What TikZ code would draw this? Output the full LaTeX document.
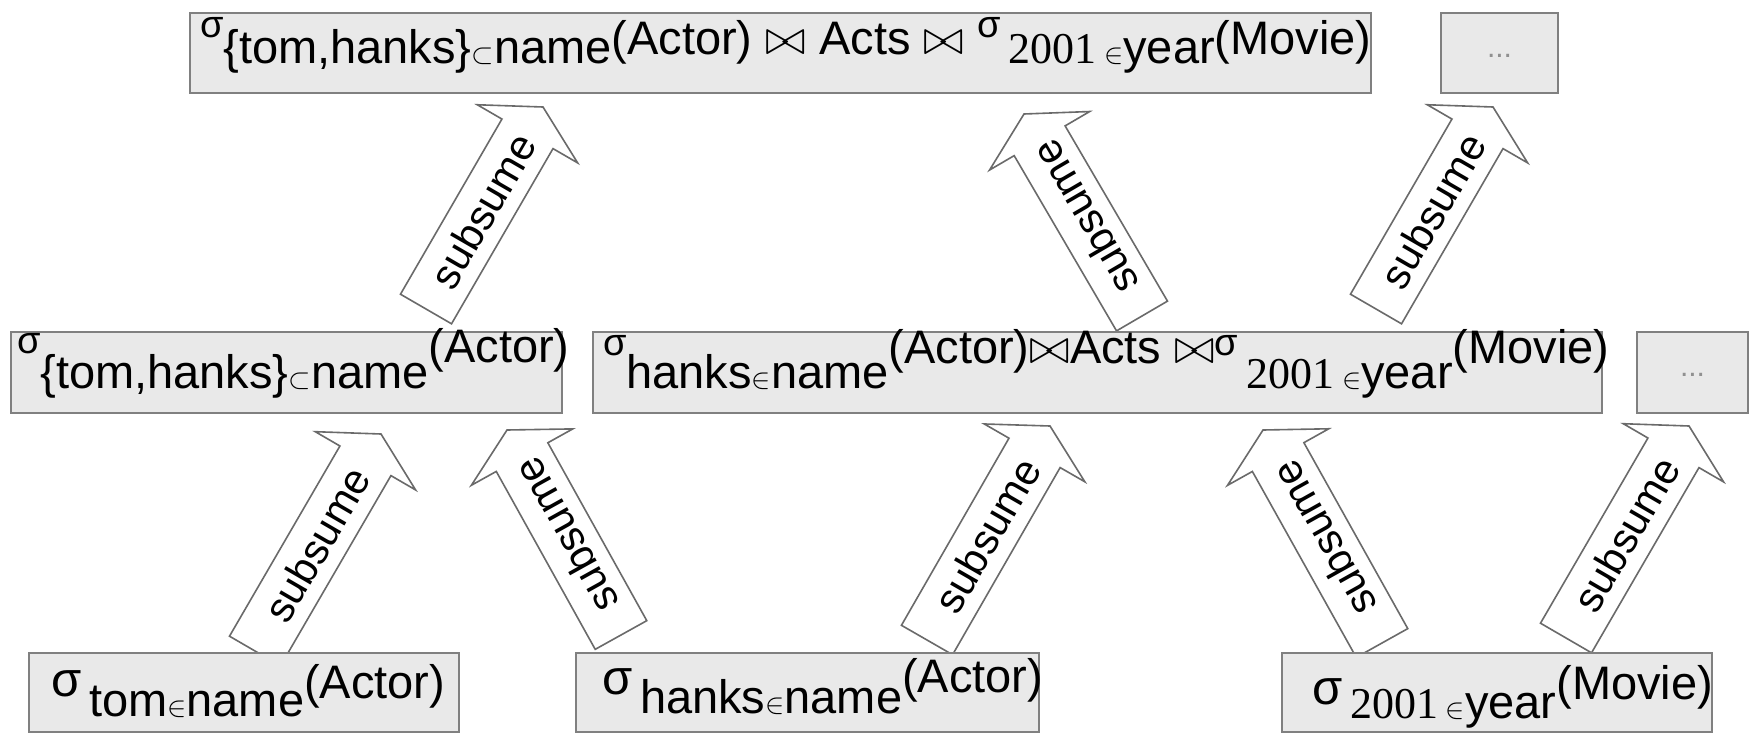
\documentclass[tikz,border=0pt]{standalone}
\usepackage{fontspec}
\setmainfont{Liberation Sans}
\newfontfamily\serifnum{Liberation Serif}
\usetikzlibrary{calc}
\pgfdeclarelayer{background}
\pgfsetlayers{background,main}
\definecolor{boxfill}{HTML}{E9E9E9}
\definecolor{boxline}{HTML}{808080}
\definecolor{arrline}{HTML}{6A6A6A}
\definecolor{dotcol}{HTML}{909090}
% text helpers
\newcommand\rb[2]{\raisebox{#1}{#2}}
\newcommand\sgm[1]{\raisebox{#1}{\fontsize{19}{19}\selectfont σ}}
\newcommand\Sgm[1]{\raisebox{#1}{\fontsize{24.5}{24.5}\selectfont σ}}
\newcommand\el{{\fontsize{14}{14}\selectfont$\in$}}
\newcommand\sbs{{\fontsize{15}{15}\selectfont$\subset$}}
\newcommand\bwt{{$\bowtie$}}
\newcommand\yr{{\serifnum\fontsize{22}{22}\selectfont 2001}}
\newcommand\bt[2]{\smash{\makebox[#1][l]{#2}}}
% block arrow between two named coordinates (tail, tip)
\newcommand\subsume[2]{%
  \coordinate (hb) at ($(#2)!15.5pt!(#1)$);
  \draw[arrowshape] ($(#1)!14.75pt!90:(#2)$) -- ($(hb)!14.75pt!-90:(#1)$)
    -- ($(hb)!29pt!-90:(#1)$) -- (#2) -- ($(hb)!29pt!90:(#1)$)
    -- ($(hb)!14.75pt!90:(#1)$) -- ($(#1)!14.75pt!-90:(#2)$) -- cycle;
  \path (#1) -- (hb) node[pos=0.56, sloped, allow upside down, arrtext] {subsume};
}
\begin{document}
\begin{tikzpicture}[x=0.5pt,y=-0.5pt,
  box/.style={draw=boxline, fill=boxfill, line width=1.4pt, inner sep=0pt,
              font=\fontsize{23.5}{23.5}\selectfont},
  dotbox/.style={draw=boxline, fill=boxfill, line width=1.4pt, inner sep=0pt,
              font=\fontsize{15}{15}\selectfont, text=dotcol},
  arrowshape/.style={draw=arrline, fill=white, line width=0.8pt, line join=miter},
  arrtext/.style={inner sep=0pt, font=\fontsize{21}{21}\selectfont}]
\useasboundingbox (0,0) rectangle (1756,734);

% top row
\node[box, minimum width=590.5pt, minimum height=40pt] (top) at (780.5,53)
  {\bt{590.5pt}{\hspace*{5pt}\sgm{8pt}\rb{-5pt}{\{tom,hanks\}\sbs name}\rb{-0.5pt}{(Actor) \bwt{} Acts \bwt{} }\sgm{8pt}\rb{-5pt}{\,\yr\,\el year}\rb{-0.5pt}{(Movie)}}};
\node[dotbox, minimum width=58.5pt, minimum height=40pt] (topdots) at (1499.5,53) {\raisebox{-4pt}{...}};

% middle row
\node[box, minimum width=275.5pt, minimum height=40.5pt] (ml) at (286.5,372.5)
  {\bt{275.5pt}{\hspace*{3pt}\sgm{9.5pt}\rb{-7.75pt}{\{tom,hanks\}\sbs name}\rb{5pt}{(Actor)}}};
\node[box, minimum width=504.5pt, minimum height=40.5pt] (mc) at (1097.5,372.5)
  {\bt{504.5pt}{\hspace*{5pt}\sgm{8.75pt}\rb{-7.75pt}{hanks\el name}\rb{4.75pt}{(Actor)\bwt Acts \bwt}\sgm{8.75pt}\rb{-7.75pt}{\,\yr\,\el year}\rb{4.75pt}{(Movie)}}};
\node[dotbox, minimum width=55.5pt, minimum height=40.5pt] (mdots) at (1692.5,372.5) {\raisebox{-4pt}{...}};

% bottom row
\node[box, minimum width=215pt, minimum height=39.5pt] (bl) at (244,692.5)
  {\bt{215pt}{\hspace*{11pt}\Sgm{-2pt}\rb{-12pt}{\,tom\el name}\rb{-3pt}{(Actor)}}};
\node[box, minimum width=231.5pt, minimum height=39.5pt] (bm) at (807.5,692.5)
  {\bt{231.5pt}{\hspace*{13pt}\Sgm{-1pt}\rb{-10.5pt}{\,hanks\el name}\rb{0pt}{(Actor)}}};
\node[box, minimum width=215pt, minimum height=39.5pt] (br) at (1497,692.5)
  {\bt{215pt}{\hspace*{15pt}\Sgm{-6pt}\rb{-13pt}{\,\yr\,\el year}\rb{-3.5pt}{(Movie)}}};

% arrow end points
\coordinate (t1) at (426,309);  \coordinate (e1) at (543,107);
\coordinate (t2) at (1142,316); \coordinate (e2) at (1024,114);
\coordinate (t3) at (1376,309); \coordinate (e3) at (1493,107);
\coordinate (t4) at (255,651);  \coordinate (e4) at (381,434);
\coordinate (t5) at (621,635);  \coordinate (e5) at (507,430);
\coordinate (t6) at (927,640);  \coordinate (e6) at (1050,426);
\coordinate (t7) at (1382,643); \coordinate (e7) at (1263,430);
\coordinate (t8) at (1566,638); \coordinate (e8) at (1689,426);

\begin{pgfonlayer}{background}
\fill[white] (0,0) rectangle (1756,734);
\subsume{t1}{e1}
\subsume{t2}{e2}
\subsume{t3}{e3}
\subsume{t4}{e4}
\subsume{t5}{e5}
\subsume{t6}{e6}
\subsume{t7}{e7}
\subsume{t8}{e8}
\end{pgfonlayer}
\end{tikzpicture}
\end{document}
